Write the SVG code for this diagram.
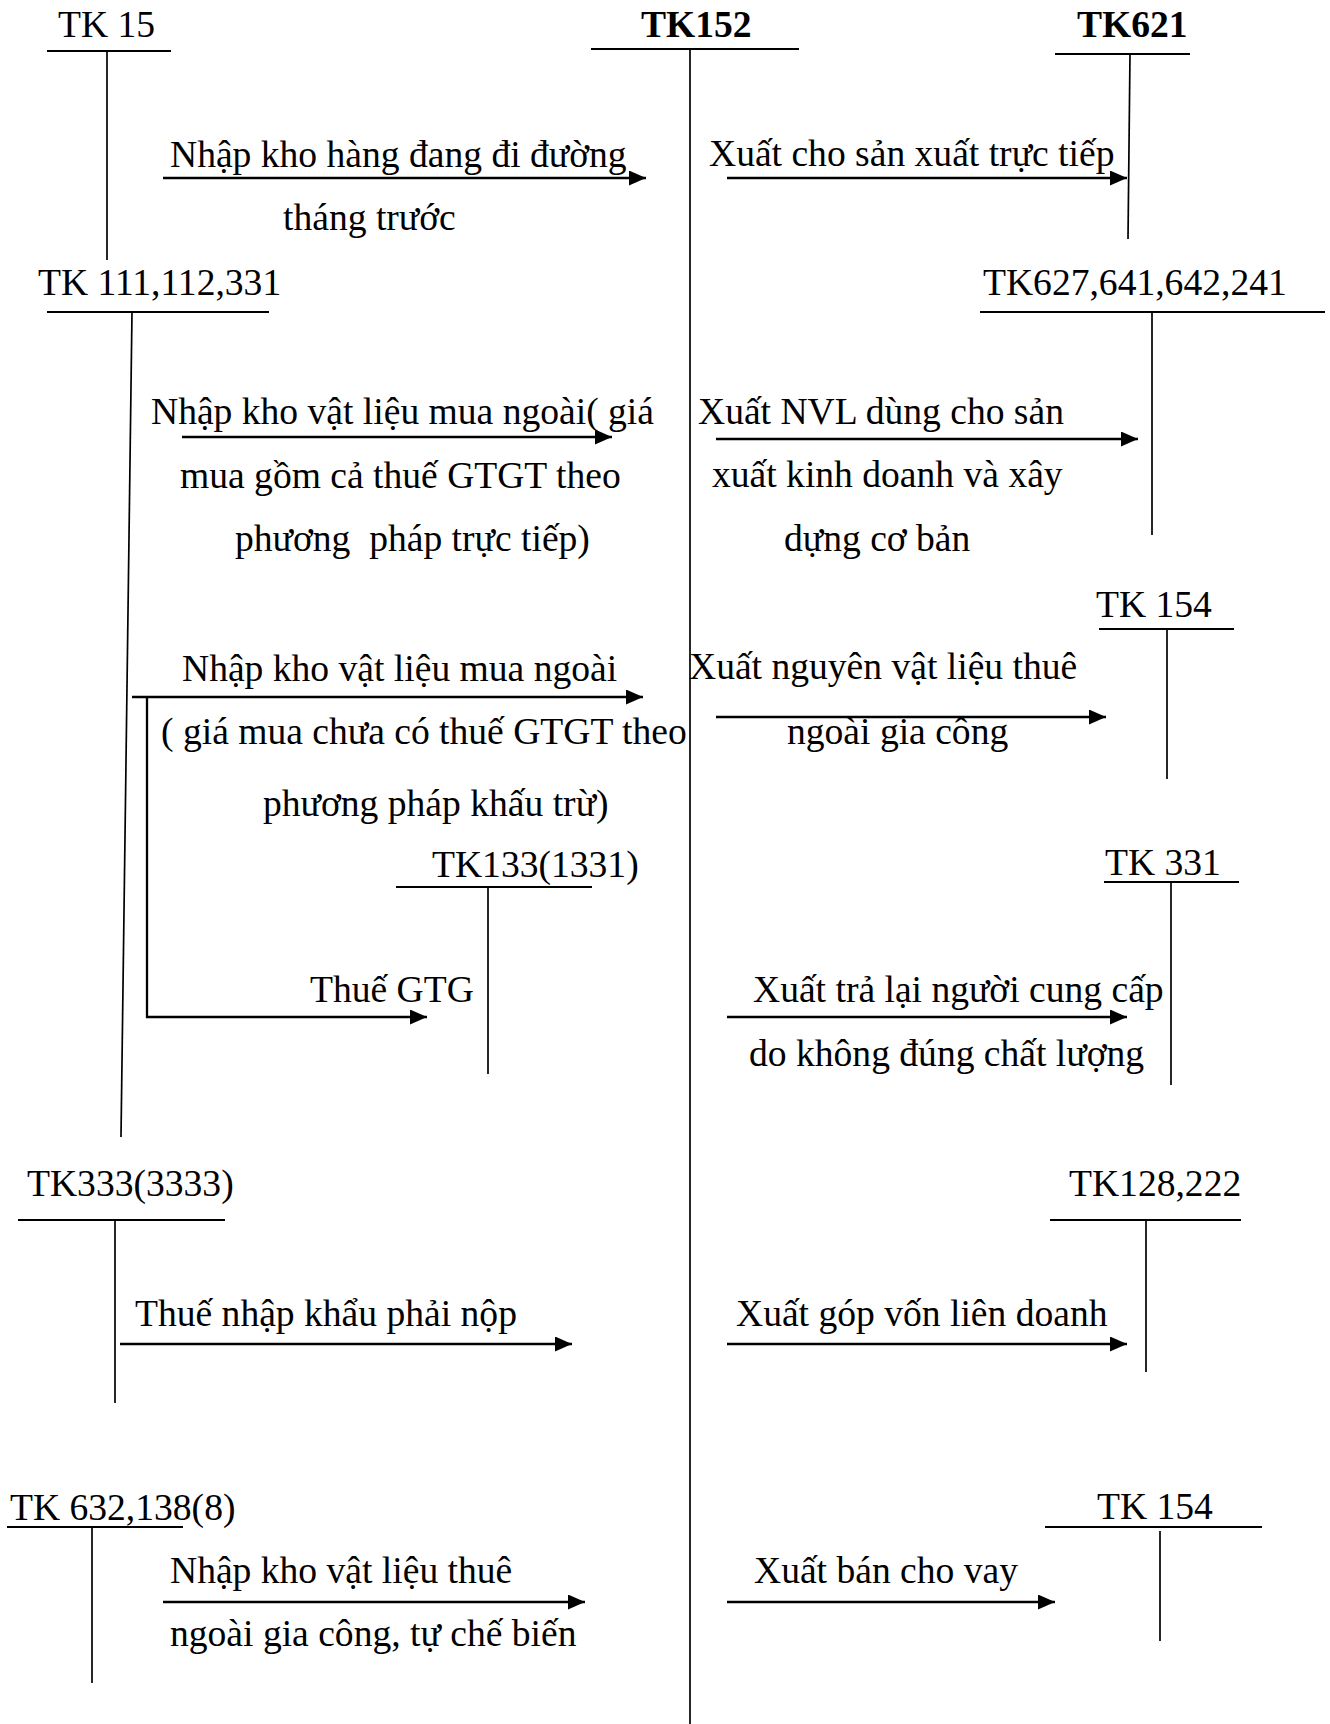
<svg xmlns="http://www.w3.org/2000/svg" width="1330" height="1724" viewBox="0 0 1330 1724">
<style>
text{font-family:"Liberation Serif","Times New Roman",serif;font-size:37.6px;fill:#000;white-space:pre}
.b{font-weight:bold}
.ln{stroke:#000;stroke-width:2;fill:none}
.v{stroke:#000;stroke-width:1.7;fill:none}
.ar{stroke:#000;stroke-width:2.3;fill:none;marker-end:url(#ah)}
</style>
<defs>
<marker id="ah" markerUnits="userSpaceOnUse" markerWidth="18" markerHeight="16" refX="17" refY="7.5" orient="auto">
<path d="M0,0 L17,7.5 L0,15 z" fill="#000"/>
</marker>
</defs>
<rect width="1330" height="1724" fill="#fff"/>

<g id="tk15"><text x="58" y="37">TK 15</text><line class="ln" x1="47" y1="51" x2="171" y2="51"/><line class="v" x1="107" y1="51" x2="107" y2="260"/></g>
<g id="tk152"><text class="b" x="641" y="37">TK152</text><line class="ln" x1="591" y1="49" x2="799" y2="49"/><line class="v" x1="690" y1="49" x2="690" y2="1724"/></g>
<g id="tk621"><text class="b" x="1077" y="37">TK621</text><line class="ln" x1="1055" y1="54" x2="1190" y2="54"/><line class="v" x1="1130" y1="54" x2="1128" y2="239"/></g>
<g id="tk111"><text x="38" y="295">TK 111,112,331</text><line class="ln" x1="47" y1="312" x2="269" y2="312"/><line class="v" x1="132" y1="312" x2="121" y2="1137"/></g>
<g id="tk627"><text x="983" y="295">TK627,641,642,241</text><line class="ln" x1="980" y1="312" x2="1325" y2="312"/><line class="v" x1="1152" y1="312" x2="1152" y2="535"/></g>
<g id="tk154a"><text x="1096" y="617">TK 154</text><line class="ln" x1="1099" y1="629" x2="1234" y2="629"/><line class="v" x1="1167" y1="629" x2="1167" y2="779"/></g>
<g id="tk133"><text x="432" y="877">TK133(1331)</text><line class="ln" x1="396" y1="887" x2="592" y2="887"/><line class="v" x1="488" y1="887" x2="488" y2="1074"/></g>
<g id="tk331"><text x="1105" y="875">TK 331</text><line class="ln" x1="1104" y1="882" x2="1239" y2="882"/><line class="v" x1="1171" y1="882" x2="1171" y2="1085"/></g>
<g id="tk333"><text x="27" y="1196">TK333(3333)</text><line class="ln" x1="18" y1="1220" x2="225" y2="1220"/><line class="v" x1="115" y1="1220" x2="115" y2="1403"/></g>
<g id="tk128"><text x="1069" y="1196">TK128,222</text><line class="ln" x1="1050" y1="1220" x2="1241" y2="1220"/><line class="v" x1="1146" y1="1220" x2="1146" y2="1372"/></g>
<g id="tk632"><text x="10" y="1520">TK 632,138(8)</text><line class="ln" x1="7" y1="1527" x2="183" y2="1527"/><line class="v" x1="92" y1="1527" x2="92" y2="1683"/></g>
<g id="tk154b"><text x="1097" y="1519">TK 154</text><line class="ln" x1="1045" y1="1527" x2="1262" y2="1527"/><line class="v" x1="1160" y1="1531" x2="1160" y2="1641"/></g>

<g id="connectors">
<line class="ar" x1="163" y1="178" x2="646" y2="178"/>
<line class="ar" x1="727" y1="178" x2="1127" y2="178"/>
<line class="ar" x1="182" y1="437" x2="612" y2="437"/>
<line class="ar" x1="716" y1="439" x2="1138" y2="439"/>
<line class="ar" x1="132" y1="697" x2="643" y2="697"/>
<line class="ar" x1="716" y1="717" x2="1106" y2="717"/>
<polyline class="ar" points="147,697 147,1017 427,1017"/>
<line class="ar" x1="727" y1="1017" x2="1127" y2="1017"/>
<line class="ar" x1="120" y1="1344" x2="572" y2="1344"/>
<line class="ar" x1="727" y1="1344" x2="1127" y2="1344"/>
<line class="ar" x1="163" y1="1602" x2="585" y2="1602"/>
<line class="ar" x1="727" y1="1602" x2="1055" y2="1602"/>
</g>

<g id="labels">
<text x="170" y="167">Nhập kho hàng đang đi đường</text>
<text x="283" y="230">tháng trước</text>
<text x="709" y="166">Xuất cho sản xuất trực tiếp</text>
<text x="151" y="424">Nhập kho vật liệu mua ngoài( giá</text>
<text x="180" y="488">mua gồm cả thuế GTGT theo</text>
<text x="235" y="551">phương  pháp trực tiếp)</text>
<text x="698" y="424">Xuất NVL dùng cho sản</text>
<text x="712" y="487">xuất kinh doanh và xây</text>
<text x="784" y="551">dựng cơ bản</text>
<text x="182" y="681">Nhập kho vật liệu mua ngoài</text>
<text x="161" y="744">( giá mua chưa có thuế GTGT theo</text>
<text x="263" y="816">phương pháp khấu trừ)</text>
<text x="689" y="679">Xuất nguyên vật liệu thuê</text>
<text x="787" y="744">ngoài gia công</text>
<text x="310" y="1002">Thuế GTG</text>
<text x="753" y="1002">Xuất trả lại người cung cấp</text>
<text x="749" y="1066">do không đúng chất lượng</text>
<text x="135" y="1326">Thuế nhập khẩu phải nộp</text>
<text x="736" y="1326">Xuất góp vốn liên doanh</text>
<text x="170" y="1583">Nhập kho vật liệu thuê</text>
<text x="170" y="1646">ngoài gia công, tự chế biến</text>
<text x="754" y="1583">Xuất bán cho vay</text>
</g>
</svg>
